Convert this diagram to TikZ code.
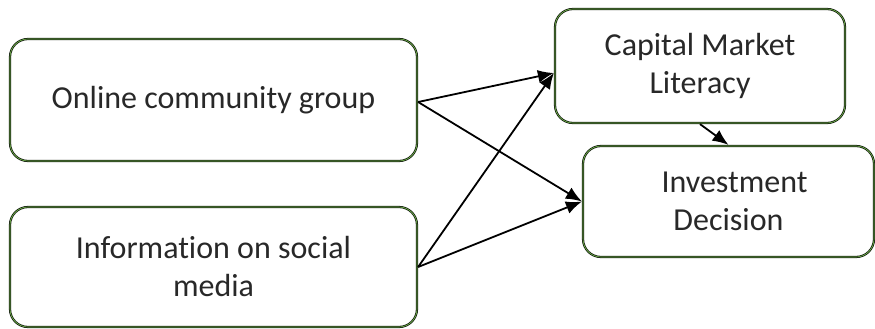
\documentclass[tikz,border=0pt]{standalone}
\usepackage{fontspec}
\setmainfont[Ligatures=NoCommon]{Carlito}
\usetikzlibrary{arrows.meta,calc}
\definecolor{txt}{RGB}{40,40,40}
\definecolor{edge}{RGB}{20,30,15}
\definecolor{innergreen}{RGB}{120,190,80}
\tikzset{
  box/.style={draw=edge, line width=2.2pt, rounded corners=18pt, fill=white,
    text=txt, align=center, inner sep=0pt,
    font=\fontsize{32}{38}\selectfont,
    postaction={draw=innergreen, line width=0.6pt, rounded corners=17pt}},
  link/.style={draw=black, line width=1.8pt, -{Latex[length=16pt,width=13pt]}}
}
\begin{document}
\begin{tikzpicture}[x=1pt,y=-1pt]
\useasboundingbox (0,0) rectangle (875,329);
\node[box, minimum width=407pt, minimum height=122pt] (b1) at (213.5,100) {Online community group};
\node[box, minimum width=407pt, minimum height=120pt] (b2) at (213.5,267) {Information on social\\media};
\node[box, minimum width=290pt, minimum height=114pt] (b3) at (700,66) {Capital Market\\Literacy};
\node[box, minimum width=291pt, minimum height=111pt] (b4) at (728.5,201.5) {\hspace*{12pt}Investment\\Decision};
\coordinate (s1) at ($(b1.east)+(0,2)$);
\coordinate (s2) at (b2.east);
\coordinate (t3) at ($(b3.west)+(0,7)$);
\coordinate (t4) at (b4.west);
\draw[link] (s1) -- (t3);
\draw[link] (s1) -- (t4);
\draw[link] (s2) -- (t3);
\draw[link] (s2) -- (t4);
\draw[link] (b3.south) -- (b4.north);
\end{tikzpicture}
\end{document}
